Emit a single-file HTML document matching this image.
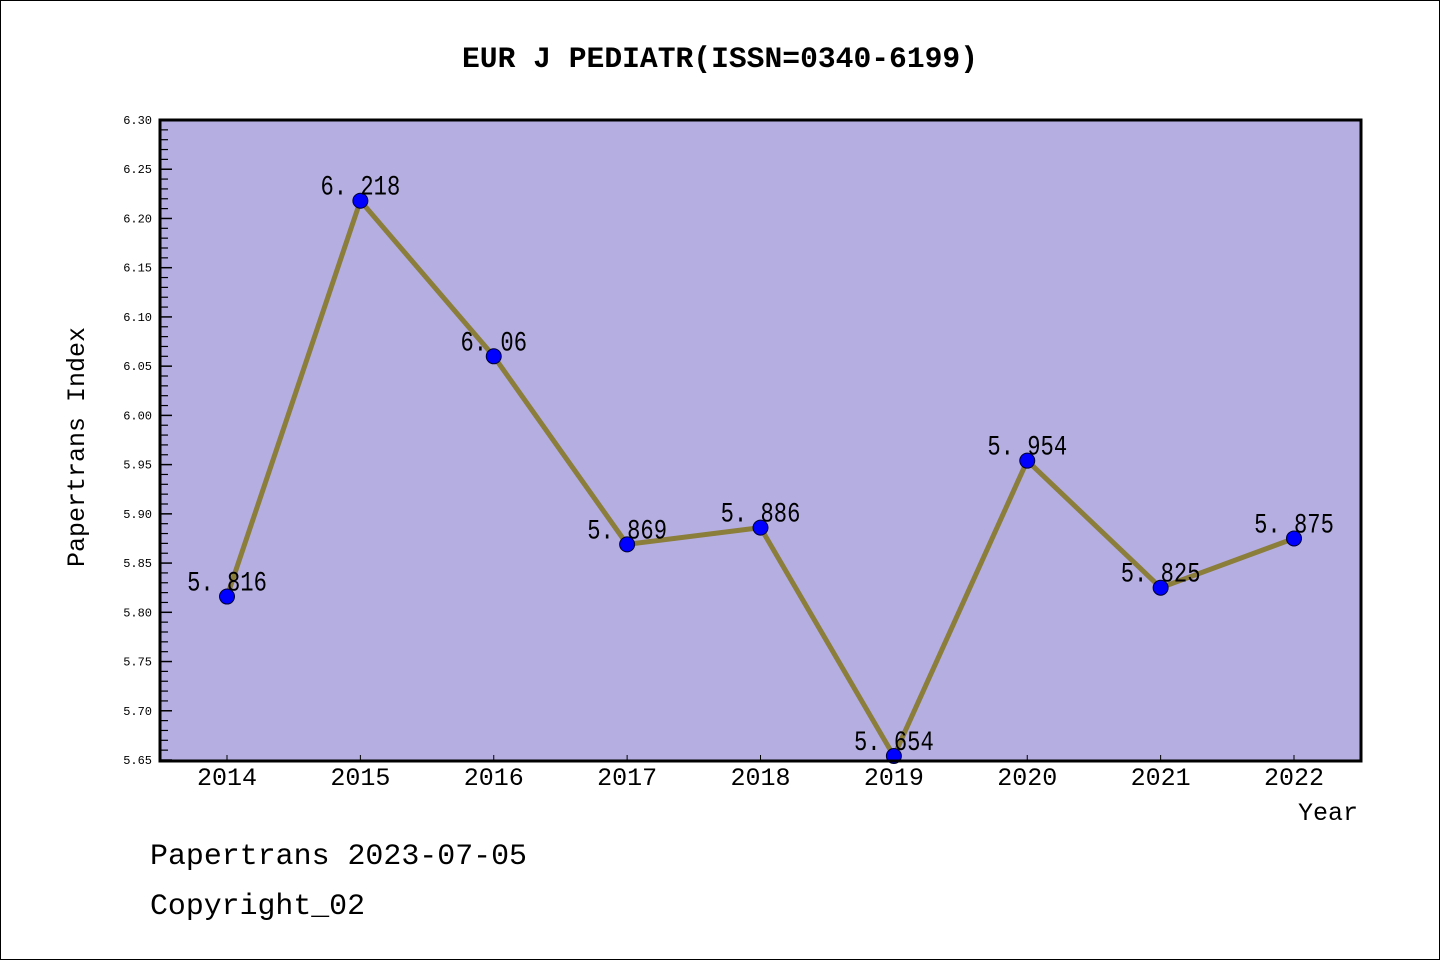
<!DOCTYPE html>
<html><head><meta charset="utf-8"><style>
body{margin:0;background:#fff}
svg{display:block}
text{font-family:"Liberation Mono","WenQuanYi Zen Hei",monospace;fill:#000}
</style></head><body>
<svg id="chart" width="1440" height="960" xmlns="http://www.w3.org/2000/svg">
<rect x="0.5" y="0.5" width="1439" height="959" fill="#fff" stroke="#000"/>
<text x="720" y="67" font-size="30" font-weight="bold" text-anchor="middle" textLength="516" lengthAdjust="spacingAndGlyphs">EUR J PEDIATR(ISSN=0340-6199)</text>
<rect x="160" y="120" width="1201" height="641" fill="#b5aee1"/>
<g id="yticks"></g>
<g id="xticks"></g>
<g id="series"></g>
<rect x="160" y="120" width="1201" height="641" fill="none" stroke="#000" stroke-width="3"/>
<text transform="translate(84,447) rotate(-90)" font-size="25" text-anchor="middle" textLength="240" lengthAdjust="spacingAndGlyphs">Papertrans Index</text>
<text x="1358" y="820" font-size="25" text-anchor="end">Year</text>
<text x="150" y="864" font-size="30" textLength="377" lengthAdjust="spacingAndGlyphs">Papertrans 2023-07-05</text>
<text x="150" y="914" font-size="30" textLength="215" lengthAdjust="spacingAndGlyphs">Copyright_02</text>
</svg>
<script>
const years=[2014,2015,2016,2017,2018,2019,2020,2021,2022];
const values=[5.816,6.218,6.06,5.869,5.886,5.654,5.954,5.825,5.875];
const labels=["5. 816","6. 218","6. 06","5. 869","5. 886","5. 654","5. 954","5. 825","5. 875"];
const yTicks=[5.65,5.70,5.75,5.80,5.85,5.90,5.95,6.00,6.05,6.10,6.15,6.20,6.25,6.30];
const NS="http://www.w3.org/2000/svg";
const yMin=5.65,yMax=6.30,plotTop=120,plotBot=760;
function ys(v){return plotBot-(v-yMin)/(yMax-yMin)*(plotBot-plotTop);}
function xs(i){return 227+i*(1294-227)/(years.length-1);}
function mk(tag,attrs,parent){const e=document.createElementNS(NS,tag);for(const k in attrs)e.setAttribute(k,attrs[k]);parent.appendChild(e);return e;}
const yg=document.getElementById('yticks'),xg=document.getElementById('xticks'),sg=document.getElementById('series');
yTicks.forEach((v,i)=>{
  const y=ys(v);
  const t=mk('line',{x1:160,x2:172,y1:y,y2:y,stroke:'#000','stroke-width':1.5},yg);
  
  
  const l=mk('text',{x:152,y:y+4,'font-size':12,'text-anchor':'end','font-family':'Liberation Sans, sans-serif'},yg);
  
  
  l.textContent=v.toFixed(2);
  if(i<yTicks.length-1){for(let k=1;k<5;k++){const yy=ys(v+k*0.01);
    const m=mk('line',{x1:160,x2:168,y1:yy,y2:yy,stroke:'#000','stroke-width':1.2},yg);
    
    }}
});
years.forEach((yr,i)=>{
  const x=xs(i);
  const t=mk('line',{x1:x,x2:x,y1:760,y2:755,stroke:'#000','stroke-width':1},xg);
  
  
  const l=mk('text',{x:x,y:785,'font-size':25,'text-anchor':'middle','font-family':'Liberation Sans, sans-serif'},xg);
  
  
  l.textContent=yr;
});
const pts=values.map((v,i)=>xs(i)+','+ys(v)).join(' ');
const line=mk('polyline',{points:pts,fill:'none',stroke:'#8b7d3a','stroke-width':5,'stroke-linejoin':'round'},sg);


values.forEach((v,i)=>{
  const c=mk('circle',{cx:xs(i),cy:ys(v),r:7.5,fill:'#0000ff',stroke:'#000033','stroke-width':1},sg);
  
  
  const t=mk('text',{x:xs(i),y:ys(v)-6,'font-size':28,'text-anchor':'middle',textLength:labels[i].length*13.3,lengthAdjust:'spacingAndGlyphs'},sg);
  
  
  t.textContent=labels[i];
});
</script>
</body></html>
